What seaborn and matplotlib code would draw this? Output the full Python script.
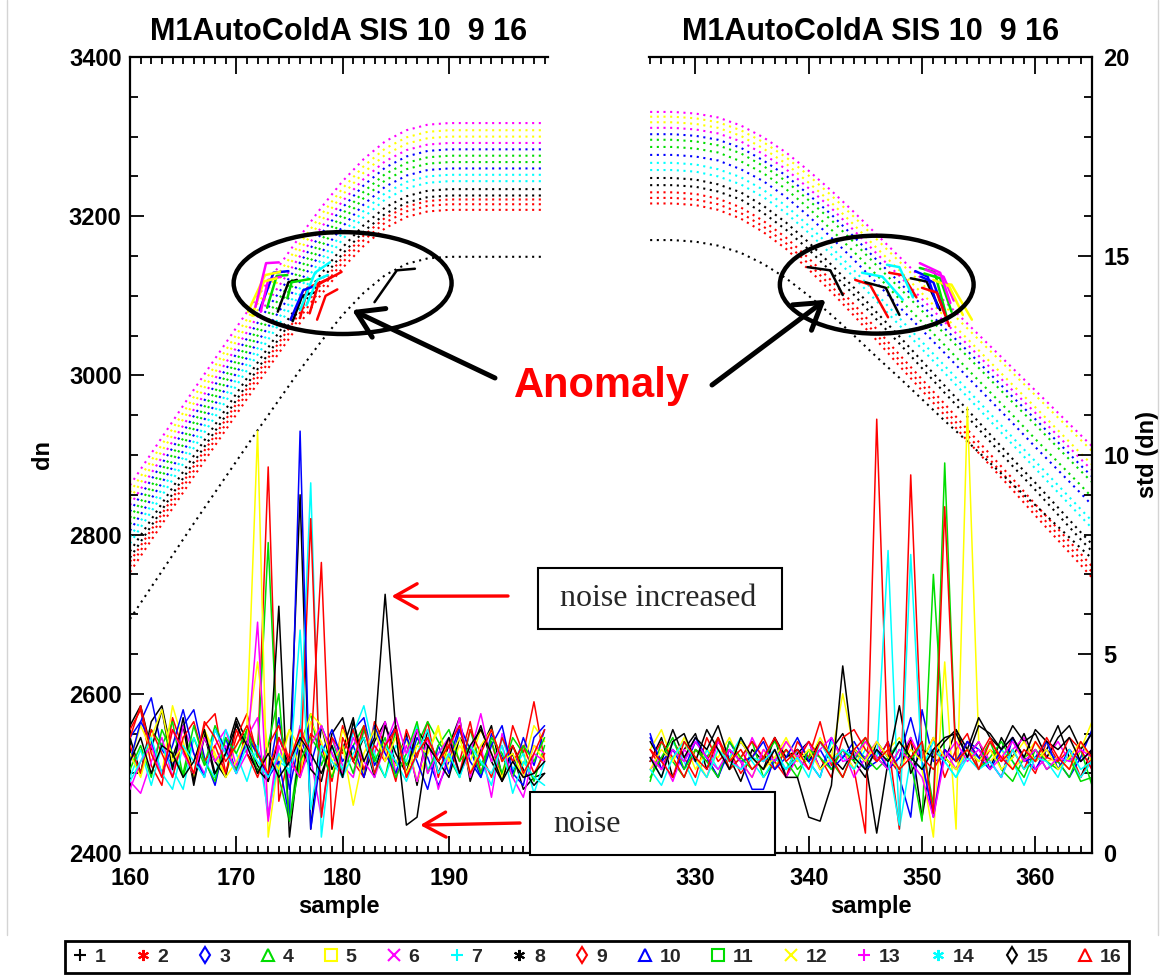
import numpy as np
import pandas as pd
import matplotlib
matplotlib.use("Agg")
import matplotlib.pyplot as plt
from matplotlib.lines import Line2D
from matplotlib.patches import Ellipse, Rectangle
from matplotlib.ticker import MultipleLocator
import seaborn as sns

sns.set_theme(style="white")
plt.rcParams["font.family"] = ["Liberation Sans", "DejaVu Sans"]
plt.rcParams["font.weight"] = "bold"
plt.rcParams["axes.labelweight"] = "bold"
plt.rcParams["axes.titleweight"] = "bold"

TITLE = "M1AutoColdA SIS 10  9 16"

# ---------------------------------------------------------------- data
channels = [str(i) for i in range(1, 17)]
channel_colors = ["#000000", "#ff0000", "#0000ff", "#00dd00", "#ffff00", "#ff00ff", "#00ffff",
                  "#000000", "#ff0000", "#0000ff", "#00dd00", "#ffff00", "#ff00ff", "#00ffff",
                  "#000000", "#ff0000"]
channel_markers = ["+", (6, 2, 0), "d", "^", "s", "x", "+", (6, 2, 0), "d", "^", "s", "x",
                   "+", (6, 2, 0), "d", "^"]

left_samples = list(range(160, 200))
right_samples = list(range(326, 366))

left_mean_samples = [160, 162, 164, 166, 168, 170, 172, 174, 176, 178, 180,
                     182, 184, 186, 188, 190, 192, 194, 196, 198, 199]
right_mean_samples = [326, 328, 330, 332, 334, 336, 338, 340, 342, 344, 346,
                      348, 350, 352, 354, 356, 358, 360, 362, 364, 365]

# mean dn per channel (dotted curves)
left_mean_dn = [
    [2779, 2819, 2859, 2899, 2938, 2977, 3016, 3054, 3092, 3128, 3161, 3189, 3211, 3225, 3232, 3234, 3234, 3234, 3234, 3234, 3234],
    [2766, 2806, 2846, 2886, 2925, 2964, 3003, 3041, 3079, 3115, 3148, 3176, 3198, 3212, 3219, 3221, 3221, 3221, 3221, 3221, 3221],
    [2829, 2869, 2909, 2949, 2988, 3027, 3066, 3104, 3142, 3178, 3211, 3239, 3261, 3275, 3282, 3284, 3284, 3284, 3284, 3284, 3284],
    [2821, 2861, 2901, 2941, 2980, 3019, 3058, 3096, 3134, 3170, 3203, 3231, 3253, 3267, 3274, 3276, 3276, 3276, 3276, 3276, 3276],
    [2853, 2893, 2933, 2973, 3012, 3051, 3090, 3128, 3166, 3202, 3235, 3263, 3285, 3299, 3306, 3308, 3308, 3308, 3308, 3308, 3308],
    [2837, 2877, 2917, 2957, 2996, 3035, 3074, 3112, 3150, 3186, 3219, 3247, 3269, 3283, 3290, 3292, 3292, 3292, 3292, 3292, 3292],
    [2797, 2837, 2877, 2917, 2956, 2995, 3034, 3072, 3110, 3146, 3179, 3207, 3229, 3243, 3250, 3252, 3252, 3252, 3252, 3252, 3252],
    [2771, 2811, 2851, 2891, 2930, 2969, 3008, 3046, 3084, 3120, 3153, 3181, 3203, 3217, 3224, 3226, 3226, 3226, 3226, 3226, 3226],
    [2760, 2800, 2840, 2880, 2919, 2958, 2997, 3035, 3073, 3109, 3142, 3170, 3192, 3206, 3213, 3215, 3215, 3215, 3215, 3215, 3215],
    [2805, 2845, 2885, 2925, 2964, 3003, 3042, 3080, 3118, 3154, 3187, 3215, 3237, 3251, 3258, 3260, 3260, 3260, 3260, 3260, 3260],
    [2813, 2853, 2893, 2933, 2972, 3011, 3050, 3088, 3126, 3162, 3195, 3223, 3245, 3259, 3266, 3268, 3268, 3268, 3268, 3268, 3268],
    [2845, 2885, 2925, 2965, 3004, 3043, 3082, 3120, 3158, 3194, 3227, 3255, 3277, 3291, 3298, 3300, 3300, 3300, 3300, 3300, 3300],
    [2862, 2902, 2942, 2982, 3021, 3060, 3099, 3137, 3175, 3211, 3244, 3272, 3294, 3308, 3315, 3317, 3317, 3317, 3317, 3317, 3317],
    [2789, 2829, 2869, 2909, 2948, 2987, 3026, 3064, 3102, 3138, 3171, 3199, 3221, 3235, 3242, 3244, 3244, 3244, 3244, 3244, 3244],
    [2694, 2734, 2774, 2814, 2853, 2892, 2931, 2969, 3007, 3043, 3076, 3104, 3126, 3140, 3147, 3149, 3149, 3149, 3149, 3149, 3149],
    [2753, 2793, 2833, 2873, 2912, 2951, 2990, 3028, 3066, 3102, 3135, 3163, 3185, 3199, 3206, 3208, 3208, 3208, 3208, 3208, 3208],
]
right_mean_dn = [
    [3248, 3248, 3246, 3240, 3230, 3213, 3192, 3167, 3139, 3110, 3079, 3049, 3018, 2987, 2957, 2926, 2895, 2865, 2834, 2803, 2788],
    [3230, 3230, 3228, 3222, 3211, 3194, 3173, 3147, 3119, 3089, 3058, 3026, 2995, 2964, 2932, 2901, 2870, 2838, 2807, 2776, 2760],
    [3303, 3303, 3301, 3296, 3286, 3270, 3251, 3227, 3202, 3174, 3145, 3117, 3088, 3059, 3031, 3002, 2973, 2945, 2916, 2887, 2873],
    [3296, 3296, 3294, 3289, 3279, 3263, 3244, 3220, 3195, 3167, 3138, 3110, 3081, 3052, 3024, 2995, 2966, 2938, 2909, 2880, 2866],
    [3325, 3325, 3323, 3318, 3308, 3293, 3274, 3251, 3226, 3199, 3171, 3143, 3115, 3087, 3059, 3031, 3003, 2975, 2947, 2919, 2905],
    [3311, 3311, 3309, 3304, 3294, 3278, 3259, 3235, 3210, 3182, 3153, 3125, 3096, 3067, 3039, 3010, 2981, 2953, 2924, 2895, 2881],
    [3267, 3267, 3265, 3259, 3249, 3233, 3213, 3188, 3161, 3132, 3102, 3072, 3042, 3012, 2982, 2952, 2922, 2892, 2862, 2832, 2817],
    [3239, 3239, 3237, 3231, 3221, 3204, 3183, 3158, 3130, 3101, 3070, 3040, 3009, 2978, 2948, 2917, 2886, 2856, 2825, 2794, 2779],
    [3223, 3223, 3221, 3215, 3204, 3187, 3166, 3140, 3112, 3082, 3051, 3019, 2988, 2957, 2925, 2894, 2863, 2831, 2800, 2769, 2753],
    [3277, 3277, 3275, 3270, 3259, 3244, 3224, 3200, 3173, 3145, 3116, 3086, 3057, 3028, 2998, 2969, 2940, 2910, 2881, 2852, 2837],
    [3287, 3287, 3285, 3280, 3269, 3254, 3234, 3210, 3183, 3155, 3126, 3096, 3067, 3038, 3008, 2979, 2950, 2920, 2891, 2862, 2847],
    [3318, 3318, 3316, 3311, 3301, 3285, 3266, 3242, 3217, 3189, 3160, 3132, 3103, 3074, 3046, 3017, 2988, 2960, 2931, 2902, 2888],
    [3331, 3331, 3329, 3324, 3314, 3299, 3280, 3257, 3232, 3205, 3177, 3149, 3121, 3093, 3065, 3037, 3009, 2981, 2953, 2925, 2911],
    [3258, 3258, 3256, 3250, 3240, 3224, 3204, 3179, 3152, 3123, 3093, 3063, 3033, 3003, 2973, 2943, 2913, 2883, 2853, 2823, 2808],
    [3170, 3170, 3168, 3163, 3154, 3140, 3122, 3100, 3076, 3050, 3023, 2997, 2970, 2943, 2917, 2890, 2863, 2837, 2810, 2783, 2770],
    [3216, 3216, 3214, 3208, 3197, 3180, 3159, 3133, 3105, 3075, 3044, 3012, 2981, 2950, 2918, 2887, 2856, 2824, 2793, 2762, 2746],
]

# mean dn over the anomalous samples (solid pieces)
left_anom_x = [
    [175.3, 176.2, 177.3], [176.0, 176.7, 178.5, 179.9], [172.2, 173.5, 174.9], [172.9, 173.8, 174.8],
    [171.1, 172.7, 174.1], [172.3, 173.0, 174.2], [176.0, 177.4, 178.8], [173.9, 174.9, 175.7],
    [176.9, 177.7, 179.0], [175.1, 176.3, 177.1], [174.8, 175.2, 176.9], [171.5, 172.6, 173.8],
    [171.8, 172.8, 174.0], [176.6, 177.6, 178.6], [183.0, 185.1, 186.8], [177.6, 178.4, 179.5],
]
left_anom_dn = [
    [3068, 3100, 3104], [3072, 3110, 3120, 3130], [3082, 3129, 3131], [3085, 3125, 3126],
    [3080, 3126, 3130], [3080, 3120, 3124], [3082, 3129, 3142], [3080, 3117, 3120],
    [3078, 3114, 3124], [3070, 3107, 3111], [3097, 3117, 3121], [3075, 3118, 3122],
    [3086, 3141, 3142], [3088, 3120, 3126], [3092, 3132, 3134], [3070, 3100, 3108],
]
right_anom_x = [
    [349.0, 350.4, 351.6], [344.1, 345.4, 347.0], [349.4, 350.5, 351.4], [349.8, 351.1, 352.2],
    [351.6, 352.6, 354.4], [350.3, 351.9, 352.8], [344.7, 346.5, 348.3], [345.0, 346.8, 348.0],
    [347.1, 348.3, 349.5], [349.9, 351.0, 352.0], [350.2, 351.6, 352.6], [351.0, 352.4, 353.6],
    [349.8, 351.6, 352.5], [346.9, 348.0, 349.2], [339.9, 341.9, 343.0], [350.0, 351.3, 352.4],
]
right_anom_dn = [
    [3122, 3118, 3082], [3120, 3114, 3073], [3131, 3124, 3085], [3135, 3130, 3072],
    [3116, 3114, 3070], [3133, 3124, 3094], [3129, 3124, 3095], [3117, 3110, 3076],
    [3129, 3126, 3098], [3124, 3117, 3078], [3128, 3122, 3080], [3120, 3112, 3076],
    [3141, 3129, 3091], [3139, 3136, 3098], [3136, 3132, 3101], [3110, 3104, 3062],
]

# standard deviation per channel (solid noisy lines, right-hand scale)
left_std = [
    [2.9, 2.0, 3.3, 3.7, 2.4, 3.2, 1.7, 3.0, 1.9, 2.5, 3.4, 2.8, 2.2, 1.8, 2.9, 2.2, 9.0, 0.6, 3.2, 2.1,
     2.6, 3.4, 1.9, 2.8, 3.3, 2.2, 3.0, 1.7, 3.1, 2.0, 2.7, 3.4, 1.8, 2.6, 3.2, 1.9, 2.5, 1.6, 1.9, 2.0],
    [3.1, 3.6, 2.2, 1.7, 3.4, 2.6, 1.9, 3.2, 3.5, 2.0, 2.9, 3.5, 2.4, 9.7, 1.3, 2.5, 1.9, 3.0, 2.7, 1.8,
     3.2, 2.3, 1.9, 3.3, 2.7, 1.8, 3.1, 2.4, 3.3, 1.9, 2.9, 2.3, 3.3, 2.0, 2.8, 1.8, 3.2, 2.5, 3.8, 2.3],
    [2.9, 3.3, 3.9, 2.6, 2.2, 3.2, 3.6, 2.4, 1.7, 2.9, 2.0, 3.1, 2.6, 1.9, 3.4, 1.6, 2.9, 2.2, 3.2, 2.5,
     1.9, 3.1, 3.4, 2.2, 2.7, 3.2, 2.0, 2.9, 2.4, 1.7, 2.3, 3.2, 2.6, 1.9, 3.0, 2.4, 2.0, 2.9, 2.2, 3.1],
    [2.5, 2.0, 3.1, 2.7, 3.3, 1.9, 2.9, 2.2, 3.2, 2.6, 2.1, 3.1, 2.4, 7.8, 1.9, 0.8, 2.7, 3.5, 2.2, 2.9,
     2.0, 2.7, 3.2, 2.4, 1.9, 3.1, 2.2, 2.7, 3.3, 2.8, 2.4, 1.9, 3.1, 2.2, 2.8, 2.0, 2.9, 2.5, 1.8, 2.7],
    [2.3, 3.2, 2.6, 2.0, 3.7, 2.8, 1.9, 3.1, 2.4, 2.0, 2.7, 3.2, 10.6, 0.4, 2.4, 3.1, 2.0, 3.3, 2.8, 1.9,
     3.1, 2.4, 2.0, 3.2, 2.6, 2.2, 2.9, 1.8, 2.5, 3.2, 2.0, 2.7, 2.3, 3.1, 2.5, 1.9, 2.7, 2.2, 3.2, 2.8],
    [1.8, 1.5, 2.3, 2.9, 1.9, 3.2, 2.5, 2.0, 2.7, 3.1, 2.2, 2.9, 3.4, 0.8, 2.7, 1.9, 3.2, 2.4, 0.9, 2.9,
     2.2, 1.9, 3.1, 2.5, 3.3, 2.0, 2.7, 1.8, 2.9, 1.6, 2.5, 3.4, 1.9, 2.7, 1.4, 3.0, 2.3, 1.9, 2.7, 2.5],
    [1.9, 2.6, 1.7, 2.7, 2.1, 1.6, 2.9, 2.3, 1.9, 3.1, 2.5, 1.8, 2.7, 1.0, 2.3, 2.1, 2.9, 9.3, 0.4, 2.7,
     2.1, 3.0, 3.7, 2.5, 1.9, 2.7, 2.3, 3.2, 2.1, 2.5, 2.9, 1.9, 2.7, 2.3, 1.7, 2.9, 2.1, 2.5, 1.5, 2.3],
    [3.2, 3.7, 2.6, 3.6, 2.1, 3.4, 1.8, 2.9, 2.3, 1.9, 3.3, 2.5, 2.1, 1.8, 6.2, 0.4, 2.7, 2.1, 1.8, 3.0,
     3.4, 2.3, 2.9, 1.9, 3.2, 2.5, 2.0, 3.1, 2.7, 2.3, 1.9, 2.9, 2.5, 3.2, 2.3, 1.8, 2.7, 2.1, 1.7, 2.0],
    [2.7, 2.0, 3.1, 2.5, 1.9, 2.9, 3.3, 2.3, 2.7, 2.0, 3.1, 2.5, 1.9, 2.7, 3.2, 2.3, 1.9, 8.4, 0.9, 2.9,
     2.5, 3.1, 2.1, 2.7, 2.3, 3.2, 1.9, 2.5, 2.9, 2.3, 2.7, 2.0, 3.1, 2.5, 1.9, 2.9, 2.3, 2.7, 2.0, 2.5],
    [2.3, 3.3, 2.8, 2.0, 2.7, 3.6, 2.5, 1.9, 3.1, 2.6, 2.0, 2.9, 2.5, 1.9, 2.3, 0.9, 10.6, 0.6, 2.5, 3.1,
     2.3, 2.7, 1.9, 3.2, 2.5, 2.0, 2.9, 2.3, 1.6, 2.7, 2.0, 3.1, 2.3, 1.9, 2.7, 3.2, 2.0, 1.7, 2.9, 3.2],
    [2.1, 2.7, 1.9, 3.1, 2.5, 2.0, 3.2, 2.3, 1.8, 2.9, 2.5, 3.1, 2.0, 2.7, 4.0, 0.8, 2.3, 2.9, 2.5, 1.9,
     2.7, 2.0, 3.1, 2.3, 2.9, 1.9, 2.5, 3.3, 2.0, 2.7, 3.1, 2.3, 2.7, 2.0, 2.9, 2.5, 1.9, 2.7, 2.3, 2.9],
    [2.5, 1.9, 2.9, 3.6, 2.3, 2.7, 2.0, 3.1, 2.5, 1.9, 2.3, 2.9, 4.8, 2.5, 2.1, 3.1, 2.6, 3.5, 3.2, 2.3,
     2.7, 1.2, 2.5, 3.1, 2.3, 2.9, 2.0, 2.7, 2.5, 3.1, 2.3, 2.9, 2.0, 2.7, 3.1, 2.3, 2.5, 1.9, 2.7, 2.3],
    [1.6, 2.3, 2.7, 1.9, 3.1, 2.5, 2.0, 2.9, 2.3, 2.7, 2.0, 2.5, 5.8, 0.9, 2.9, 2.3, 1.9, 2.7, 3.2, 2.5,
     2.0, 2.9, 2.3, 1.9, 2.7, 3.4, 2.5, 3.1, 2.0, 2.5, 2.9, 2.0, 2.5, 3.5, 2.3, 2.7, 1.9, 1.4, 2.5, 2.3],
    [1.8, 2.3, 2.9, 2.0, 1.6, 2.7, 2.3, 1.9, 3.1, 2.5, 2.0, 2.7, 2.3, 1.9, 2.5, 2.0, 5.6, 1.1, 2.7, 2.3,
     1.9, 2.5, 2.9, 2.0, 2.7, 2.3, 1.8, 2.5, 3.1, 2.0, 2.5, 1.9, 2.7, 2.3, 2.0, 2.7, 1.5, 2.3, 1.9, 1.7],
    [2.3, 2.9, 2.0, 2.7, 2.5, 1.9, 2.3, 3.1, 2.0, 2.5, 3.2, 2.7, 2.0, 2.5, 1.9, 2.3, 2.9, 2.5, 2.0, 2.7,
     1.9, 3.3, 2.3, 2.9, 6.5, 3.1, 0.7, 0.9, 2.7, 2.3, 2.9, 2.0, 2.7, 3.1, 2.5, 1.8, 2.3, 1.9, 2.0, 2.3],
    [2.9, 3.7, 2.5, 1.9, 3.1, 2.6, 2.0, 3.3, 2.9, 2.3, 2.7, 3.2, 2.5, 2.0, 2.9, 2.3, 3.1, 2.5, 7.3, 0.6,
     2.9, 2.3, 3.2, 2.0, 2.7, 3.1, 1.9, 2.5, 2.9, 2.3, 2.7, 3.2, 2.0, 2.5, 3.1, 2.3, 2.7, 2.0, 2.5, 3.1],
]
right_std = [
    [2.3, 2.9, 1.9, 2.6, 3.0, 2.1, 2.8, 2.4, 1.8, 2.6, 2.3, 2.9, 1.9, 2.5, 2.8, 2.1, 2.6, 3.0, 2.3, 1.9,
     2.8, 2.4, 2.1, 2.9, 0.9, 2.6, 2.3, 3.1, 2.4, 2.8, 2.1, 2.9, 2.4, 3.0, 2.3, 2.6, 3.2, 2.4, 1.9, 2.6],
    [2.6, 2.1, 2.8, 2.4, 1.9, 2.9, 2.3, 2.6, 2.0, 2.4, 2.9, 2.3, 1.9, 2.8, 2.4, 3.3, 2.2, 2.6, 2.1, 0.5,
     10.9, 2.4, 2.0, 2.8, 2.3, 2.9, 1.9, 2.6, 3.0, 2.1, 2.6, 2.3, 2.9, 2.4, 2.0, 2.8, 2.3, 2.6, 1.9, 2.4],
    [3.0, 2.1, 2.6, 2.3, 2.9, 2.4, 1.9, 2.8, 2.3, 1.6, 1.6, 2.4, 2.1, 2.6, 2.3, 1.9, 2.9, 2.4, 2.6, 2.1,
     2.3, 2.8, 1.9, 0.9, 3.6, 2.3, 2.4, 2.1, 2.8, 2.6, 2.3, 1.9, 2.9, 2.4, 2.1, 2.6, 2.3, 1.9, 2.4, 3.1],
    [1.8, 2.8, 2.3, 1.9, 2.6, 2.4, 2.9, 2.1, 2.4, 2.8, 1.9, 2.3, 2.6, 2.1, 2.4, 2.8, 2.3, 1.9, 2.6, 2.4,
     2.1, 2.4, 2.8, 2.3, 0.8, 7.0, 2.4, 2.1, 2.6, 2.3, 2.8, 2.1, 1.8, 2.4, 2.6, 2.1, 2.3, 1.9, 2.6, 1.7],
    [2.6, 3.1, 2.3, 2.8, 2.1, 2.6, 2.4, 2.9, 2.3, 1.9, 2.6, 2.1, 2.8, 2.4, 2.3, 2.9, 2.4, 2.6, 2.1, 2.8,
     2.3, 2.6, 2.9, 2.4, 2.1, 0.4, 4.8, 0.6, 11.2, 2.8, 2.3, 2.6, 2.1, 2.4, 2.8, 2.3, 2.4, 2.1, 2.6, 3.3],
    [2.1, 2.4, 1.8, 2.6, 2.3, 1.9, 2.8, 2.4, 2.1, 2.9, 2.3, 2.6, 1.9, 2.4, 2.8, 2.1, 2.3, 2.6, 1.9, 2.4,
     2.8, 2.1, 2.4, 2.9, 2.3, 1.0, 2.6, 2.1, 2.4, 2.8, 2.3, 1.9, 2.6, 2.9, 2.1, 2.4, 2.8, 2.3, 2.6, 2.1],
    [2.4, 1.9, 2.8, 2.3, 1.7, 2.6, 2.1, 2.4, 2.9, 2.3, 1.9, 2.4, 2.1, 2.6, 2.3, 1.9, 2.8, 2.4, 2.1, 2.6,
     2.3, 7.6, 0.6, 2.4, 2.1, 2.8, 2.3, 1.9, 2.6, 2.4, 2.1, 2.6, 2.3, 1.7, 2.4, 2.8, 2.1, 2.4, 1.9, 2.3],
    [2.8, 2.3, 3.1, 2.4, 2.9, 2.6, 3.2, 2.3, 2.8, 2.4, 2.1, 2.9, 2.4, 2.6, 2.3, 2.8, 2.4, 2.1, 2.6, 2.3,
     0.5, 2.3, 3.7, 2.0, 2.6, 2.4, 2.8, 3.1, 2.6, 3.4, 2.9, 2.6, 3.2, 2.8, 3.0, 2.4, 2.9, 3.2, 2.6, 3.0],
    [2.3, 2.8, 2.4, 1.9, 2.6, 2.3, 2.9, 2.1, 2.4, 2.8, 2.4, 2.1, 2.6, 2.3, 2.8, 2.4, 1.9, 2.9, 3.1, 2.6,
     2.3, 2.8, 0.6, 9.5, 2.4, 2.1, 2.6, 2.3, 2.8, 2.4, 2.9, 2.3, 2.6, 2.1, 2.8, 2.4, 2.3, 2.9, 2.6, 2.1],
    [2.9, 2.3, 2.6, 2.1, 2.8, 2.4, 1.9, 2.6, 2.3, 2.4, 2.8, 2.1, 2.4, 2.9, 2.3, 2.6, 2.1, 2.4, 2.8, 2.3,
     2.6, 2.1, 2.4, 3.4, 2.3, 0.9, 2.6, 2.3, 2.8, 2.4, 2.1, 2.6, 2.9, 2.3, 2.4, 2.8, 2.1, 2.6, 2.3, 2.6],
    [1.9, 2.4, 2.9, 2.1, 2.6, 2.3, 1.9, 2.8, 2.4, 2.1, 2.4, 2.8, 2.3, 1.9, 2.6, 2.4, 2.1, 2.6, 2.3, 2.9,
     2.4, 2.1, 2.6, 2.3, 2.8, 1.2, 9.8, 2.3, 2.6, 2.1, 2.4, 2.8, 2.3, 1.9, 2.6, 2.3, 2.1, 2.4, 1.8, 1.9],
    [2.1, 2.6, 2.3, 2.9, 2.4, 1.9, 2.6, 2.3, 2.8, 2.4, 2.1, 2.4, 2.9, 2.3, 2.6, 2.1, 2.4, 4.0, 2.6, 2.3,
     2.8, 2.4, 2.1, 2.6, 2.3, 2.9, 2.4, 2.1, 2.6, 2.3, 2.6, 2.1, 2.4, 2.8, 2.3, 2.6, 2.1, 2.4, 2.8, 2.3],
    [2.4, 2.1, 2.6, 2.3, 2.8, 2.4, 2.1, 2.6, 2.3, 1.9, 2.6, 2.3, 2.8, 2.4, 2.1, 2.6, 2.9, 2.3, 2.4, 2.8,
     2.4, 2.1, 2.6, 2.3, 1.9, 0.9, 2.4, 2.8, 2.3, 2.6, 2.1, 2.4, 2.8, 2.3, 2.6, 2.1, 2.4, 2.3, 2.6, 2.4],
    [2.1, 1.7, 2.4, 2.8, 2.3, 1.9, 2.6, 2.3, 2.1, 2.4, 2.3, 2.6, 2.1, 2.4, 1.9, 2.8, 2.3, 2.6, 2.4, 2.1,
     2.6, 2.3, 0.7, 7.5, 2.1, 2.6, 2.3, 1.9, 2.4, 2.1, 2.3, 1.9, 2.6, 2.1, 2.4, 2.3, 1.9, 2.6, 2.1, 2.3],
    [2.4, 1.9, 2.8, 3.0, 2.3, 3.1, 2.6, 2.1, 2.9, 2.4, 2.1, 2.6, 1.9, 1.9, 0.9, 0.8, 1.7, 4.7, 2.4, 2.1,
     2.6, 2.3, 2.8, 2.4, 2.1, 2.6, 2.9, 3.0, 2.4, 3.2, 3.0, 2.6, 2.9, 2.4, 3.1, 2.8, 2.6, 2.9, 2.3, 2.6],
    [2.6, 2.3, 1.9, 2.8, 2.4, 2.1, 2.9, 2.3, 2.6, 2.1, 2.4, 2.9, 2.3, 2.6, 2.1, 2.8, 2.4, 1.9, 2.6, 2.9,
     2.3, 2.6, 2.1, 2.4, 2.8, 1.0, 8.7, 2.3, 2.6, 2.1, 2.8, 2.4, 2.1, 2.6, 2.3, 2.9, 2.4, 2.1, 2.8, 2.4],
]

palette = dict(zip(channels, channel_colors))


def long_table(x_rows, y_rows, value):
    recs = []
    for ch, xs, ys in zip(channels, x_rows, y_rows):
        for x, y in zip(xs, ys):
            recs.append((ch, x, y))
    return pd.DataFrame(recs, columns=["channel", "sample", value])


# ---------------------------------------------------------------- layout
W, H = 1160, 977
fig = plt.figure(figsize=(W / 100, H / 100), dpi=100)
fig.patch.set_facecolor("white")


def fx(px):
    return px / W


def fy(py):
    return 1 - py / H


axL = fig.add_axes([fx(130), fy(853), 418 / W, 796 / H])
axR = fig.add_axes([fx(649), fy(853), 443 / W, 796 / H])
axL2 = axL.twinx()
axR2 = axR.twinx()


def draw_panel(ax_dn, ax_std, mean_x, mean_rows, anom_x, anom_rows, std_x, std_rows):
    common = dict(x="sample", hue="channel", hue_order=channels, palette=palette,
                  estimator=None, legend=False)
    sns.lineplot(data=long_table([mean_x] * 16, mean_rows, "dn"), y="dn", ax=ax_dn,
                 linewidth=1.5, linestyle=(0, (1, 2.2)), sort=False, **common)
    sns.lineplot(data=long_table(anom_x, anom_rows, "dn"), y="dn", ax=ax_dn,
                 linewidth=1.8, sort=False, **common)
    sns.lineplot(data=long_table([std_x] * 16, std_rows, "std"), y="std", ax=ax_std,
                 linewidth=1.1, sort=False, **common)


draw_panel(axL, axL2, left_mean_samples, left_mean_dn, left_anom_x, left_anom_dn,
           left_samples, left_std)
draw_panel(axR, axR2, right_mean_samples, right_mean_dn, right_anom_x, right_anom_dn,
           right_samples, right_std)

for ax, lim in ((axL, (160, 199.32)), (axR, (325.9, 365.0))):
    ax.set_xlim(*lim)
    ax.set_ylim(2400, 3400)
    ax.set_facecolor("none")
    ax.xaxis.set_major_locator(MultipleLocator(10))
    ax.xaxis.set_minor_locator(MultipleLocator(1))
    ax.tick_params(axis="x", which="both", direction="in", top=True, bottom=True,
                   color="black", width=1.3)
    ax.tick_params(axis="x", which="major", length=12, pad=10, labelsize=17,
                   labelcolor="black")
    ax.tick_params(axis="x", which="minor", length=5)
    ax.set_xlabel("sample", fontsize=17, fontweight="bold", labelpad=4, color="black")
    ax.set_title(TITLE, fontsize=22, fontweight="bold", pad=12, color="black")
    for lbl in ax.get_xticklabels():
        lbl.set_fontweight("bold")

for a in (axL2, axR2):
    a.set_ylim(0, 20)

for a in (axL, axL2, axR, axR2):
    for s in a.spines.values():
        s.set_color("black")
        s.set_linewidth(1.6)
        s.set_visible(False)
axL.spines["left"].set_visible(True)
axL.spines["top"].set_visible(True)
axL.spines["bottom"].set_visible(True)
axR.spines["top"].set_visible(True)
axR.spines["bottom"].set_visible(True)
axR2.spines["right"].set_visible(True)

# left dn axis
axL.yaxis.set_major_locator(MultipleLocator(200))
axL.yaxis.set_minor_locator(MultipleLocator(50))
axL.tick_params(axis="y", which="both", direction="in", left=True, right=False,
                color="black", width=1.3)
axL.tick_params(axis="y", which="major", length=10, pad=6, labelsize=17, labelcolor="black")
axL.tick_params(axis="y", which="minor", length=6)
axL.set_ylabel("dn", fontsize=17, fontweight="bold", labelpad=11, color="black")

axL2.tick_params(axis="y", which="both", left=False, right=False, labelleft=False,
                 labelright=False)
axL2.set_ylabel("")
axR.tick_params(axis="y", which="both", left=False, right=False, labelleft=False,
                labelright=False)
axR.set_ylabel("")

# right std axis
axR2.yaxis.set_major_locator(MultipleLocator(5))
axR2.yaxis.set_minor_locator(MultipleLocator(1))
axR2.tick_params(axis="y", which="both", direction="in", right=True, left=False,
                 labelright=True, color="black", width=1.3)
axR2.tick_params(axis="y", which="major", length=10, pad=8, labelsize=17, labelcolor="black")
axR2.tick_params(axis="y", which="minor", length=6)
axR2.set_ylabel("std (dn)", fontsize=17, fontweight="bold", labelpad=5, color="black")
for a in (axL, axR2):
    for lbl in a.get_yticklabels():
        lbl.set_fontweight("bold")

# ---------------------------------------------------------------- annotations
axL.add_patch(Ellipse((180.0, 3116), 20.5, 128, fill=False, lw=3.2, ec="black",
                      clip_on=False, zorder=6))
axR.add_patch(Ellipse((346.0, 3114), 17.1, 123, fill=False, lw=3.2, ec="black",
                      clip_on=False, zorder=6))

black_arrow = dict(arrowstyle="->,head_length=0.6,head_width=0.38", lw=3.6,
                   color="black", shrinkA=0, shrinkB=0, mutation_scale=30)
axL.annotate("", xy=(180.9, 3082), xycoords="data", xytext=(fx(495), fy(378)),
             textcoords="figure fraction", arrowprops=black_arrow, annotation_clip=False)
axR.annotate("", xy=(341.5, 3095), xycoords="data", xytext=(fx(712), fy(385)),
             textcoords="figure fraction", arrowprops=black_arrow, annotation_clip=False)
fig.text(fx(602), fy(386), "Anomaly", color="#ff0000", fontsize=30, fontweight="bold",
         ha="center", va="center")

red_arrow = dict(arrowstyle="->,head_length=0.8,head_width=0.45", lw=2.4,
                 color="#ff0000", shrinkA=0, shrinkB=0, mutation_scale=20)
axL2.annotate("", xy=(184.6, 6.45), xycoords="data", xytext=(fx(508), fy(596)),
              textcoords="figure fraction", arrowprops=red_arrow, annotation_clip=False)
axL2.annotate("", xy=(187.3, 0.7), xycoords="data", xytext=(fx(520), fy(823)),
              textcoords="figure fraction", arrowprops=red_arrow, annotation_clip=False)

serif = ["Liberation Serif", "DejaVu Serif"]
fig.add_artist(Rectangle((fx(538), fy(629)), 244 / W, 61 / H, transform=fig.transFigure,
                         facecolor="white", edgecolor="black", lw=1.5, zorder=3))
fig.text(fx(658), fy(599), "noise increased", family=serif, fontsize=23,
         fontweight="normal", ha="center", va="center", zorder=4)
fig.add_artist(Rectangle((fx(530), fy(855)), 245 / W, 63 / H, transform=fig.transFigure,
                         facecolor="white", edgecolor="black", lw=1.5, zorder=3))
fig.text(fx(553), fy(824), "noise", family=serif, fontsize=23, fontweight="normal",
         ha="left", va="center", zorder=4)

# faint frame of the plot page
for xp in (7, 1158):
    fig.add_artist(Line2D([fx(xp), fx(xp)], [fy(0), fy(935)], transform=fig.transFigure,
                          color="#d4d4d4", lw=1.0, zorder=1))

# ---------------------------------------------------------------- legend
handles = [Line2D([], [], linestyle="none", marker=m, markersize=8,
                  markerfacecolor="none", markeredgecolor=c, markeredgewidth=1.5, color=c)
           for m, c in zip(channel_markers, channel_colors)]
leg = fig.legend(handles, channels, loc="center", bbox_to_anchor=(fx(597), fy(957)),
                 ncol=16, frameon=True, fancybox=False, edgecolor="black", framealpha=1,
                 borderpad=0.35, handlelength=0.8, handletextpad=0.35, columnspacing=1.52,
                 prop={"family": "Liberation Sans", "weight": "bold", "size": 14})
leg.get_frame().set_linewidth(2)

fig.savefig("out.png", dpi=100)
